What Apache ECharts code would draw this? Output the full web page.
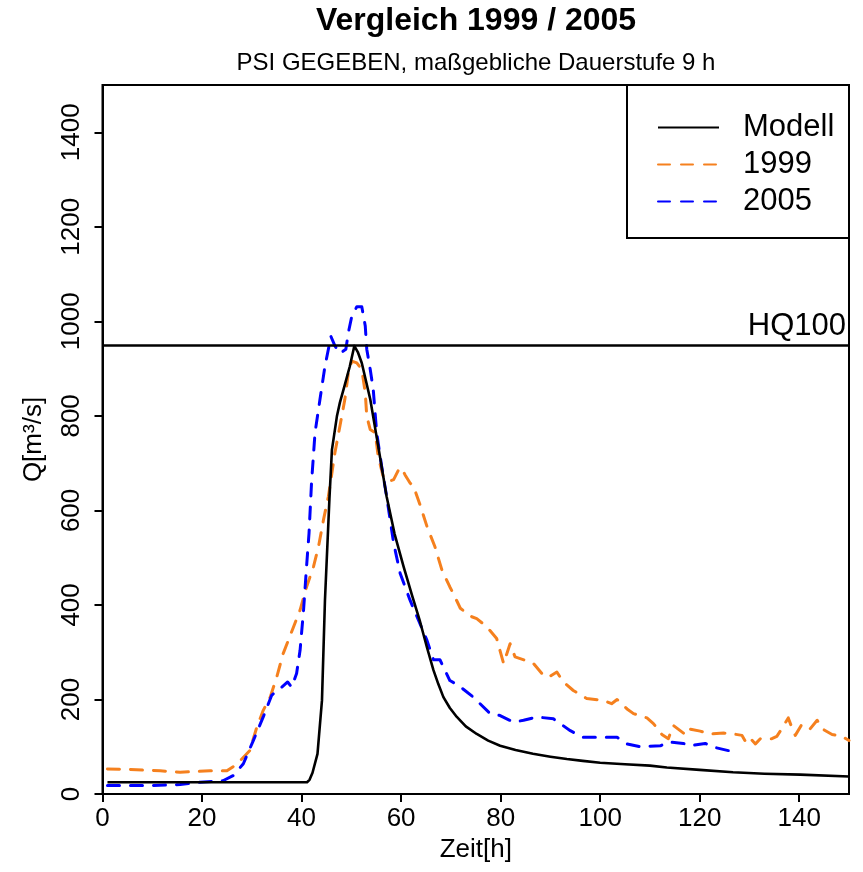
<!DOCTYPE html>
<html>
<head>
<meta charset="utf-8">
<script src="https://cdn.jsdelivr.net/npm/echarts@6/dist/echarts.min.js"></script>
<style>html,body{margin:0;padding:0;background:#fff}#c{width:863px;height:872px}</style>
</head>
<body>
<div id="c"></div>
<script>
const FONT = 'Liberation Sans, Arial, Helvetica, sans-serif';
const titleText = 'Vergleich 1999 / 2005';
const subtitleText = 'PSI GEGEBEN, maßgebliche Dauerstufe 9 h';
const seriesNames = ['Modell', '1999', '2005'];
const xTicks = [0, 20, 40, 60, 80, 100, 120, 140];
const yTicks = [0, 200, 400, 600, 800, 1000, 1200, 1400];
const hq100 = 950;

const zeitModell = [1, 41.1, 41.6, 42.2, 43.2, 44.1, 44.7, 45.6, 46.1, 47.1, 47.7, 48.7, 49.7, 50.6, 51.3, 52.1, 53.8, 55.4, 57.1, 58.7, 60.5, 62.2, 63.8, 65.2, 66.5, 67.5, 68.5, 69.8, 71.2, 73, 75.2, 77.5, 79.9, 83, 86.5, 90, 93.3, 96.5, 100, 105, 110, 113.4, 120, 126.7, 133, 140.2, 150];
const qModell = [25, 25, 30, 45, 85, 198, 410, 625, 728, 799, 828, 866, 905, 948, 935, 912, 835, 736, 629, 550, 481, 420, 365, 310, 262, 232, 205, 182, 163, 143, 127, 113, 102, 93, 85, 79, 74, 70, 66, 63, 60, 56, 51, 46, 43, 41, 37];

const zeit1999 = [1, 5, 11.6, 15.6, 21.6, 25, 26.3, 28, 29.6, 31, 32.3, 33.7, 35, 36.3, 38.4, 39.7, 41, 42.4, 43.4, 44.4, 45.4, 46.7, 47.7, 48.7, 49.4, 50.1, 51.1, 52.1, 52.8, 53.1, 53.8, 54.8, 55.4, 56.4, 57.4, 58.5, 59.5, 60.1, 60.8, 61.8, 62.5, 63.8, 65.2, 66.8, 68.2, 69.8, 70.5, 71.9, 73.2, 74.2, 75.2, 77.2, 79.2, 80.6, 81.9, 82.9, 84.9, 86.6, 88.6, 89.6, 91.3, 92.6, 94.6, 97.3, 100.7, 102.3, 103.4, 105.4, 106.7, 109.4, 110.7, 112.4, 113.7, 114.7, 117.1, 117.7, 120.1, 122.1, 124.8, 126.8, 128.5, 129.1, 129.8, 131.2, 132.2, 134.5, 135.5, 136.5, 137.8, 138.5, 139.2, 140.5, 142.2, 143.6, 144.6, 146.6, 148.6, 150];
const q1999 = [53, 52, 49, 46, 49, 49, 58, 74, 92, 141, 177, 205, 247, 297, 354, 389, 438, 481, 523, 580, 630, 722, 778, 835, 891, 916, 912, 898, 849, 799, 771, 764, 714, 672, 661, 665, 686, 690, 675, 658, 651, 612, 566, 523, 474, 438, 424, 393, 382, 375, 371, 354, 329, 276, 318, 290, 283, 276, 251, 247, 258, 237, 219, 202, 198, 191, 200, 180, 170, 161, 149, 126, 117, 145, 126, 138, 133, 127, 129, 127, 124, 113, 122, 106, 117, 117, 122, 138, 161, 141, 124, 147, 138, 156, 138, 126, 122, 113];

const zeit2005 = [1, 10, 15.6, 19.6, 24.2, 26.3, 28.3, 30.3, 32.3, 34, 36, 37.2, 38, 39, 39.7, 40.4, 41, 41.5, 42, 42.7, 43.7, 44.7, 45.9, 46.7, 47.7, 48.9, 49.4, 50.1, 51.1, 52.1, 52.8, 53.1, 53.8, 54.4, 55.1, 56.1, 57.1, 58.5, 59.8, 61.8, 63.2, 65.2, 66.5, 67.8, 69.8, 71.5, 74.5, 77.9, 79.9, 82.6, 84.6, 87.3, 90.6, 94, 96.6, 100, 103.4, 105.4, 108, 112.1, 113.7, 116.7, 118.1, 121.1, 122.8, 126.5];
const q2005 = [18, 18, 20, 25, 28, 39, 64, 113, 163, 209, 226, 237, 226, 255, 304, 389, 481, 552, 658, 764, 835, 905, 968, 948, 932, 941, 976, 1011, 1031, 1031, 990, 941, 898, 856, 764, 693, 629, 531, 467, 410, 375, 325, 284, 284, 240, 230, 205, 170, 166, 152, 156, 163, 159, 134, 120, 120, 120, 106, 100, 102, 110, 107, 102, 107, 99, 90];

function zip(xs, ys) { return xs.map((x, i) => [x, ys[i]]); }

const chart = echarts.init(document.getElementById('c'), null, {renderer: 'canvas'});
const axisFont = {fontFamily: FONT, fontSize: 26, color: '#000'};
const plain = v => String(v);

chart.setOption({
  animation: false,
  backgroundColor: '#fff',
  textStyle: {fontFamily: FONT},
  graphic: [
    {type: 'text', x: 476, y: 5, style: {text: titleText, font: 'bold 32px ' + FONT, textAlign: 'center', fill: '#000'}},
    {type: 'text', x: 476, y: 51, style: {text: subtitleText, font: '24px ' + FONT, textAlign: 'center', fill: '#000'}},
    {type: 'rect', shape: {x: 627, y: 85, width: 222, height: 153}, style: {fill: 'none', stroke: '#000', lineWidth: 2}, z: 10}
  ],
  grid: {left: 102.5, right: 14, top: 85, bottom: 78, show: true, borderColor: '#000', borderWidth: 2, backgroundColor: 'transparent'},
  legend: {
    orient: 'vertical', left: 657, top: 109, padding: 0, itemGap: 0,
    itemWidth: 61, itemHeight: 14,
    data: seriesNames,
    itemStyle: {opacity: 0},
    textStyle: {fontFamily: FONT, fontSize: 31, color: '#000', lineHeight: 37, padding: [0, 0, 0, 19]}
  },
  xAxis: {
    type: 'value', min: 0, max: 150, interval: 20,
    name: 'Zeit[h]', nameLocation: 'middle', nameGap: 39,
    nameTextStyle: axisFont,
    axisLine: {show: true, onZero: false, lineStyle: {color: '#000', width: 2}},
    axisTick: {show: true, length: 8, lineStyle: {color: '#000', width: 2}, customValues: xTicks},
    axisLabel: Object.assign({margin: 12, customValues: xTicks, formatter: plain}, axisFont),
    splitLine: {show: false}
  },
  yAxis: {
    type: 'value', min: 0, max: 1500, interval: 200,
    name: 'Q[m³/s]', nameLocation: 'middle', nameGap: 56, nameRotate: 90,
    nameTextStyle: axisFont,
    axisLine: {show: true, onZero: false, lineStyle: {color: '#000', width: 2}},
    axisTick: {show: true, length: 8, lineStyle: {color: '#000', width: 2}, customValues: yTicks},
    axisLabel: Object.assign({margin: 18, rotate: 90, customValues: yTicks, formatter: plain}, axisFont),
    splitLine: {show: false}
  },
  series: [
    {
      name: seriesNames[0], type: 'line', data: zip(zeitModell, qModell),
      symbol: 'none', showSymbol: false, smooth: false, z: 3,
      lineStyle: {color: '#000', width: 2.6, type: 'solid', join: 'round'},
      itemStyle: {color: '#000'},
      markLine: {
        silent: true, symbol: 'none', animation: false,
        lineStyle: {color: '#000', width: 2.6, type: 'solid'},
        label: {show: true, position: 'insideEndTop', formatter: 'HQ100', fontFamily: FONT, fontSize: 31, color: '#000', distance: [3, 3]},
        data: [{yAxis: hq100}]
      }
    },
    {
      name: seriesNames[1], type: 'line', data: zip(zeit1999, q1999),
      symbol: 'none', showSymbol: false, z: 2,
      lineStyle: {color: '#F5801E', width: 3, type: [12, 11], cap: 'round', join: 'round'},
      itemStyle: {color: '#F5801E'}
    },
    {
      name: seriesNames[2], type: 'line', data: zip(zeit2005, q2005),
      symbol: 'none', showSymbol: false, z: 2,
      lineStyle: {color: '#0000FF', width: 3, type: [12, 11], cap: 'round', join: 'round'},
      itemStyle: {color: '#0000FF'}
    }
  ]
});
</script>
</body>
</html>
